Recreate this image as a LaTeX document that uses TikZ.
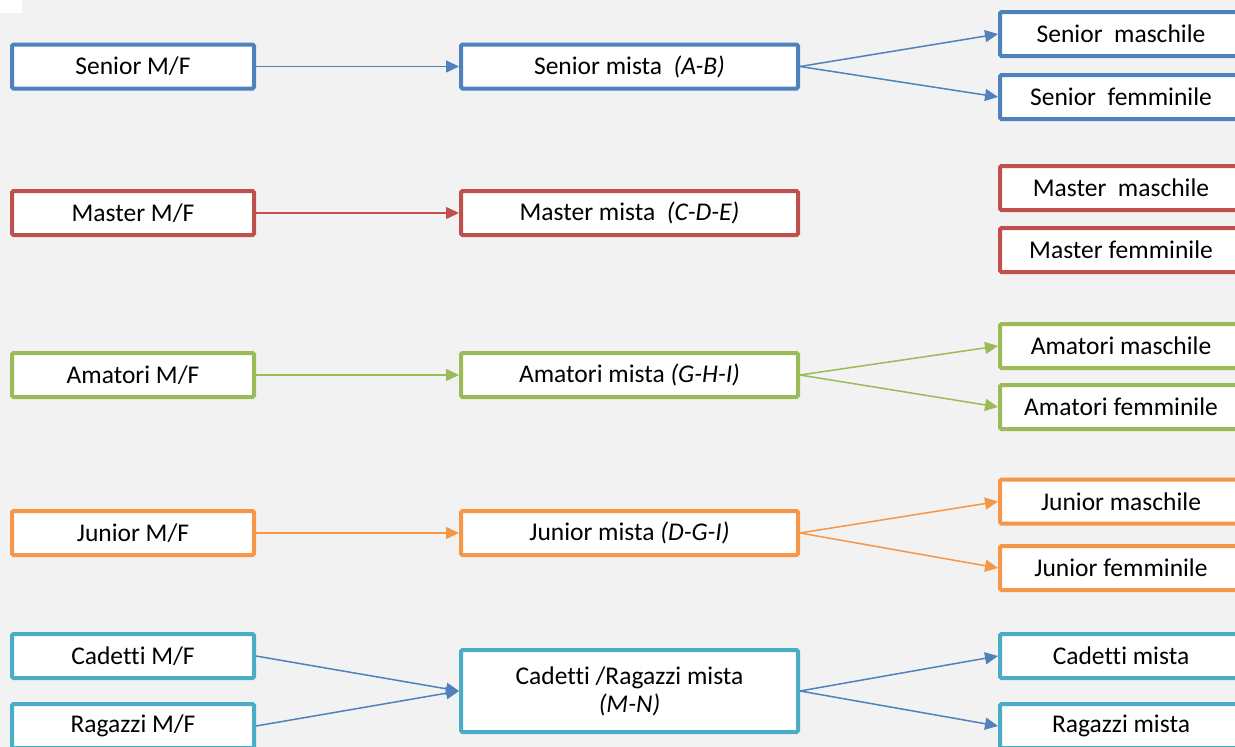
\documentclass[tikz,border=0pt]{standalone}
\usepackage{fontspec}
\setmainfont{Carlito}[Ligatures=NoCommon]
\usetikzlibrary{arrows.meta}
\definecolor{cblue}{HTML}{4F81BD}
\definecolor{cred}{HTML}{C0504D}
\definecolor{cgreen}{HTML}{9BBB59}
\definecolor{corange}{HTML}{F79646}
\definecolor{caqua}{HTML}{4BACC6}
\definecolor{cback}{HTML}{F2F2F2}
\begin{document}
\begin{tikzpicture}[x=1pt,y=1pt,yscale=-1,xscale=1,
  box/.style={draw=#1,line width=4pt,fill=white,rounded corners=1.5pt,minimum width=242pt,minimum height=44pt,inner sep=0pt,align=center,font=\fontsize{25.5}{28}\selectfont},
  midbox/.style={box=#1,minimum width=337pt},
  link/.style={draw=#1,line width=1.5pt,-{Triangle[length=13pt,width=12pt]}}]
\clip (0,0) rectangle (1235,747);
\useasboundingbox (0,0) rectangle (1235,747);
% background
\fill [cback] (0,0) rectangle (1235,747);
\fill [white] (0,0) rectangle (22,13);
% Senior
\node [box=cblue] (sen) at (133,66.5) {Senior M/F};
\node [midbox=cblue] (senmix) at (629.5,66.5) {Senior mista\ \ \textit{(A-B)}};
\node [box=cblue] (senm) at (1121,34) {Senior\ \ maschile};
\node [box=cblue] (senf) at (1121,97) {Senior\ \ femminile};
\draw [link=cblue] (sen) -- (senmix);
\draw [link=cblue] (senmix.east) -- (senm.west);
\draw [link=cblue] (senmix.east) -- (senf.west);
% Master
\node [box=cred] (mas) at (133,213) {Master M/F};
\node [midbox=cred] (masmix) at (629.5,213) {Master mista\ \ \textit{(C-D-E)}};
\node [box=cred] (masm) at (1121,188) {Master\ \ maschile};
\node [box=cred] (masf) at (1121,250) {Master femminile};
\draw [link=cred] (mas) -- (masmix);
% Amatori
\node [box=cgreen] (ama) at (133,375) {Amatori M/F};
\node [midbox=cgreen] (amamix) at (629.5,375) {Amatori mista \textit{(G-H-I)}};
\node [box=cgreen] (amam) at (1121,346) {Amatori maschile};
\node [box=cgreen] (amaf) at (1121,407) {Amatori femminile};
\draw [link=cgreen] (ama) -- (amamix);
\draw [link=cgreen] (amamix.east) -- (amam.west);
\draw [link=cgreen] (amamix.east) -- (amaf.west);
% Junior
\node [box=corange] (jun) at (133,533) {Junior M/F};
\node [midbox=corange] (junmix) at (629.5,533) {Junior mista \textit{(D-G-I)}};
\node [box=corange] (junm) at (1121,501.5) {Junior maschile};
\node [box=corange] (junf) at (1121,568) {Junior femminile};
\draw [link=corange] (jun) -- (junmix);
\draw [link=corange] (junmix.east) -- (junm.west);
\draw [link=corange] (junmix.east) -- (junf.west);
% Cadetti / Ragazzi
\node [box=caqua] (cad) at (133,656) {Cadetti M/F};
\node [box=caqua] (rag) at (133,726) {Ragazzi M/F};
\node [midbox=caqua,minimum height=82pt] (cadmix) at (629.5,691) {Cadetti /Ragazzi mista\\\textit{(M-N)}};
\node [box=caqua] (cadm) at (1121,656) {Cadetti mista};
\node [box=caqua] (ragm) at (1121,726) {Ragazzi mista};
\draw [link=cblue] (cad.east) -- (cadmix.west);
\draw [link=cblue] (rag.east) -- (cadmix.west);
\draw [link=cblue] (cadmix.east) -- (cadm.west);
\draw [link=cblue] (cadmix.east) -- (ragm.west);
\end{tikzpicture}
\end{document}
